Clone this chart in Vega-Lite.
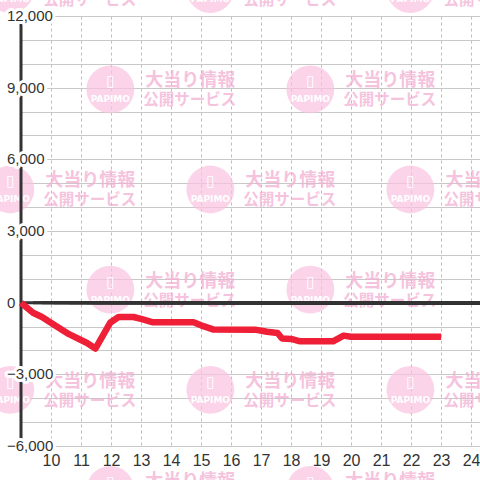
{
  "$schema": "https://vega.github.io/schema/vega-lite/v6.json",
  "width": 460,
  "height": 430,
  "autosize": {"type": "none"},
  "padding": {"left": 21, "top": 16, "right": 0, "bottom": 34},
  "background": "white",
  "config": {"view": {"stroke": null}},
  "datasets": {
    "series": [
      {"hour": 9.0, "diff": 0},
      {"hour": 9.4, "diff": -420},
      {"hour": 9.7, "diff": -600},
      {"hour": 10.1, "diff": -920},
      {"hour": 10.6, "diff": -1320},
      {"hour": 11.2, "diff": -1690},
      {"hour": 11.48, "diff": -1920},
      {"hour": 11.98, "diff": -830},
      {"hour": 12.25, "diff": -600},
      {"hour": 12.75, "diff": -600},
      {"hour": 13.0, "diff": -680},
      {"hour": 13.4, "diff": -820},
      {"hour": 14.75, "diff": -820},
      {"hour": 15.0, "diff": -950},
      {"hour": 15.4, "diff": -1120},
      {"hour": 16.8, "diff": -1130},
      {"hour": 17.2, "diff": -1220},
      {"hour": 17.55, "diff": -1270},
      {"hour": 17.7, "diff": -1500},
      {"hour": 18.0, "diff": -1520},
      {"hour": 18.3, "diff": -1620},
      {"hour": 19.4, "diff": -1620},
      {"hour": 19.75, "diff": -1380},
      {"hour": 20.0, "diff": -1430},
      {"hour": 23.0, "diff": -1430}
    ],
    "yticks": [
      {"hour": 9, "diff": -6000}, {"hour": 9, "diff": -3000}, {"hour": 9, "diff": 0}, {"hour": 9, "diff": 3000},
      {"hour": 9, "diff": 6000}, {"hour": 9, "diff": 9000}, {"hour": 9, "diff": 12000}
    ],
    "watermark": [
      {"hour": 8.643, "diff": 13124}, {"hour": 15.31, "diff": 13124}, {"hour": 21.977, "diff": 13124},
      {"hour": 11.977, "diff": 8931}, {"hour": 18.643, "diff": 8931},
      {"hour": 8.643, "diff": 4738}, {"hour": 15.31, "diff": 4738}, {"hour": 21.977, "diff": 4738},
      {"hour": 11.977, "diff": 545}, {"hour": 18.643, "diff": 545},
      {"hour": 8.643, "diff": -3648}, {"hour": 15.31, "diff": -3648}, {"hour": 21.977, "diff": -3648},
      {"hour": 11.977, "diff": -7841}, {"hour": 18.643, "diff": -7841}
    ]
  },
  "encoding": {
    "x": {
      "field": "hour", "type": "quantitative",
      "scale": {"domain": [9, 24.33], "nice": false, "zero": false},
      "axis": {
        "title": null, "values": [10,11,12,13,14,15,16,17,18,19,20,21,22,23,24],
        "domain": false, "ticks": false, "grid": true, "labelOverlap": false,
        "gridColor": "#bdbdbd", "gridDash": [3, 3], "gridWidth": 1,
        "labelFont": "Liberation Sans", "labelFontSize": 16, "labelColor": "#333333",
        "labelPadding": 6, "labelFlush": false
      }
    },
    "y": {
      "field": "diff", "type": "quantitative",
      "scale": {"domain": [-6000, 12000], "nice": false, "zero": false},
      "axis": {
        "title": null,
        "values": [-6000,-5000,-4000,-3000,-2000,-1000,0,1000,2000,3000,4000,5000,6000,7000,8000,9000,10000,11000,12000],
        "domain": false, "ticks": false, "labels": false, "grid": true,
        "gridColor": "#c8c8c8", "gridWidth": 1
      }
    }
  },
  "layer": [
    {
      "data": {"name": "watermark"},
      "mark": {"type": "point", "filled": true, "shape": "circle", "size": 2290, "color": "#f9c2e1", "opacity": 0.7, "clip": false}
    },
    {
      "data": {"name": "watermark"},
      "mark": {"type": "text", "text": "▯", "color": "#ffffff", "font": "DejaVu Sans", "fontSize": 15, "dy": -8, "clip": false}
    },
    {
      "data": {"name": "watermark"},
      "mark": {"type": "text", "text": "PAPIMO", "color": "#ffffff", "font": "DejaVu Sans", "fontSize": 9, "fontWeight": "bold", "dy": 10, "clip": false}
    },
    {
      "data": {"name": "watermark"},
      "mark": {"type": "text", "text": "大当り情報", "color": "#f3b0d3", "opacity": 0.75, "font": "Noto Sans CJK JP", "fontSize": 18, "fontWeight": "bold", "align": "left", "dx": 35, "dy": -8, "clip": false}
    },
    {
      "data": {"name": "watermark"},
      "mark": {"type": "text", "text": "公開サービス", "color": "#f3b0d3", "opacity": 0.75, "font": "Noto Sans CJK JP", "fontSize": 15.5, "fontWeight": "bold", "align": "left", "dx": 33, "dy": 11, "clip": false}
    },
    {
      "data": {"name": "yticks"},
      "mark": {"type": "rule", "color": "#333333", "strokeWidth": 3},
      "encoding": {"y": {"aggregate": "min", "field": "diff", "type": "quantitative"}, "y2": {"aggregate": "max", "field": "diff"}}
    },
    {
      "data": {"name": "series"},
      "mark": {"type": "rule", "color": "#333333", "strokeWidth": 3},
      "encoding": {"x": {"aggregate": "min", "field": "hour", "type": "quantitative"}, "x2": {"datum": 24.33}, "y": {"datum": 0, "type": "quantitative"}}
    },
    {
      "data": {"name": "series"},
      "mark": {"type": "line", "color": "#ee1f36", "strokeWidth": 6.5, "strokeJoin": "round", "strokeCap": "butt"}
    },
    {
      "data": {"name": "yticks"},
      "mark": {"type": "text", "align": "left", "baseline": "middle", "dx": -14, "font": "Liberation Sans", "fontSize": 15, "fill": "white", "stroke": "white", "strokeWidth": 6, "strokeJoin": "round", "clip": false},
      "encoding": {"text": {"field": "diff", "type": "quantitative", "format": ","}}
    },
    {
      "data": {"name": "yticks"},
      "mark": {"type": "text", "align": "left", "baseline": "middle", "dx": -14, "font": "Liberation Sans", "fontSize": 15, "color": "#333333", "clip": false},
      "encoding": {"text": {"field": "diff", "type": "quantitative", "format": ","}}
    }
  ]
}
